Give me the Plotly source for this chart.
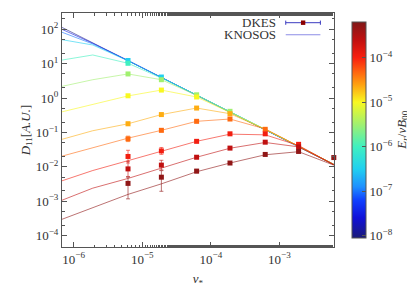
import numpy as np
import plotly.graph_objects as go
from plotly.colors import sample_colorscale

# ---------------- data ----------------
nu_knosos = [6.2e-7, 1.9e-6, 6.2e-6, 1.9e-5, 6.2e-5, 1.9e-4, 6.2e-4, 1.9e-3, 6.2e-3]
nu_dkes = [6.2e-6, 1.9e-5, 6.2e-5, 1.9e-4, 6.2e-4, 1.9e-3, 6.2e-3]

Er = [1e-8, 3.2e-8, 1e-7, 3.2e-7, 1e-6, 3.2e-6, 1e-5, 2.2e-5, 4.5e-5, 1.1e-4, 2.5e-4, 5e-4]

knosos_D = [
    [123, 39.8, 12.3, 3.98, 1.23, 0.398, 0.123, 0.0398, 0.0117],
    [107, 38.9, 12.3, 3.98, 1.23, 0.398, 0.123, 0.0398, 0.0117],
    [87, 37.2, 12.2, 3.98, 1.23, 0.398, 0.123, 0.0398, 0.0117],
    [51, 34.7, 12.0, 3.98, 1.23, 0.398, 0.123, 0.0398, 0.0117],
    [12.3, 17.8, 10.2, 3.8, 1.23, 0.398, 0.123, 0.0398, 0.0117],
    [2.1, 3.4, 5.0, 3.4, 1.2, 0.398, 0.123, 0.0398, 0.0117],
    [0.38, 0.65, 1.15, 1.7, 1.07, 0.38, 0.123, 0.0398, 0.0117],
    [0.060, 0.112, 0.178, 0.33, 0.51, 0.35, 0.123, 0.0398, 0.0117],
    [0.0195, 0.0355, 0.068, 0.115, 0.21, 0.245, 0.126, 0.0398, 0.0117],
    [0.0037, 0.0078, 0.0151, 0.0282, 0.055, 0.089, 0.085, 0.0417, 0.0115],
    [0.0010, 0.0024, 0.0046, 0.0091, 0.019, 0.0347, 0.051, 0.038, 0.0115],
    [0.00028, 0.00065, 0.00158, 0.0032, 0.0072, 0.0129, 0.0224, 0.0275, 0.0112],
]

dkes_D = [
    [None] * 7,
    [None] * 7,
    [None] * 7,
    [12.3, 4.07, None, None, None, None, None],
    [10.2, None, None, None, None, None, None],
    [5.0, 3.4, 1.24, 0.41, None, None, None],
    [1.16, 1.7, 1.07, None, None, None, None],
    [0.178, 0.33, 0.51, 0.35, None, None, None],
    [0.065, 0.115, 0.21, 0.245, 0.123, None, None],
    [0.020, 0.029, 0.055, 0.091, 0.091, 0.045, None],
    [0.0087, 0.0112, 0.019, 0.035, 0.052, 0.038, None],
    [0.0033, 0.0050, 0.0075, 0.0129, 0.0229, 0.028, 0.0186],
]

# error bars, in decades (upper, lower)
dkes_err_up = [
    [0.02] * 7, [0.02] * 7, [0.02] * 7, [0.02] * 7, [0.02] * 7, [0.02] * 7, [0.02] * 7,
    [0.05, 0.03, 0.02, 0.02, 0.02, 0.02, 0.02],
    [0.08, 0.04, 0.02, 0.02, 0.02, 0.02, 0.02],
    [0.18, 0.10, 0.03, 0.02, 0.02, 0.02, 0.02],
    [0.22, 0.14, 0.04, 0.03, 0.02, 0.02, 0.02],
    [0.18, 0.19, 0.05, 0.03, 0.02, 0.02, 0.02],
]
dkes_err_dn = [
    [0.02] * 7, [0.02] * 7, [0.02] * 7, [0.02] * 7, [0.02] * 7, [0.02] * 7, [0.02] * 7,
    [0.05, 0.03, 0.02, 0.02, 0.02, 0.02, 0.02],
    [0.08, 0.04, 0.02, 0.02, 0.02, 0.02, 0.02],
    [0.19, 0.10, 0.03, 0.02, 0.02, 0.02, 0.02],
    [0.22, 0.14, 0.04, 0.03, 0.02, 0.02, 0.02],
    [0.45, 0.41, 0.05, 0.03, 0.02, 0.02, 0.02],
]

x_tick_exps = [-6, -5, -4, -3]
y_tick_exps = [-4, -3, -2, -1, 0, 1, 2]
cb_tick_exps = [-8, -7, -6, -5, -4]

# ---------------- styling ----------------
cmin, cmax = -8.05, -3.2
stops = [(-8.05, "#1c1c78"), (-7.6, "#1010d8"), (-7.2, "#1040ff"), (-6.9, "#1e90ff"),
         (-6.5, "#20d0f0"), (-6.0, "#40f0c0"), (-5.5, "#a0f070"), (-5.0, "#f8f820"),
         (-4.6, "#ffa010"), (-4.3, "#ff6010"), (-4.0, "#f82010"), (-3.6, "#c01010"),
         (-3.2, "#801818")]
colorscale = [[(v - cmin) / (cmax - cmin), c] for v, c in stops]

FONT = "Liberation Serif"
AX = "#555555"
FS = 13

def sup(e):
    return "10<sup>%s</sup>" % (str(e).replace("-", "\u2212"))

fig = go.Figure()

logE = [np.log10(e) for e in Er]
cols = sample_colorscale(colorscale, [(v - cmin) / (cmax - cmin) for v in logE])

def rgba(c, a):
    r, g, b = [int(float(t)) for t in c[c.index("(") + 1:c.index(")")].split(",")]
    return "rgba(%d,%d,%d,%.2f)" % (r, g, b, a)

# KNOSOS lines
for i, row in enumerate(knosos_D):
    fig.add_trace(go.Scatter(x=nu_knosos, y=row, mode="lines",
                             line=dict(color=rgba(cols[i], 0.6), width=1),
                             showlegend=False, hoverinfo="skip"))

# DKES points
first = True
for i, row in enumerate(dkes_D):
    xs, ys, eu, ed = [], [], [], []
    for j, v in enumerate(row):
        if v is None:
            continue
        xs.append(nu_dkes[j])
        ys.append(v)
        eu.append(v * (10 ** dkes_err_up[i][j] - 1))
        ed.append(v * (1 - 10 ** (-dkes_err_dn[i][j])))
    if not xs:
        continue
    mk = dict(symbol="square", size=5, color=[logE[i]] * len(xs), colorscale=colorscale,
              cmin=cmin, cmax=cmax, line=dict(width=0))
    if first:
        mk.update(showscale=True, colorbar=dict(
            x=1.029, xanchor="left", y=0.5, yanchor="middle", len=1.01, thickness=14,
            outlinewidth=1, outlinecolor=AX, tickmode="array",
            tickvals=cb_tick_exps, ticktext=[sup(e) for e in cb_tick_exps],
            ticks="inside", ticklen=4, tickcolor=AX,
            tickfont=dict(family=FONT, size=FS, color="#333")))
        first = False
    fig.add_trace(go.Scatter(x=xs, y=ys, mode="markers", marker=mk,
                             error_y=dict(type="data", array=eu, arrayminus=ed, symmetric=False,
                                          color=rgba(cols[i], 0.6), thickness=1, width=2),
                             showlegend=False, cliponaxis=False, hoverinfo="skip"))

axis_common = dict(type="log", showline=True, linecolor=AX, linewidth=1, mirror="allticks",
                   ticks="inside", ticklen=5, tickcolor=AX, showgrid=False, zeroline=False,
                   tickfont=dict(family=FONT, size=FS, color="#333"),
                   minor=dict(ticks="inside", ticklen=2.5, tickcolor=AX, showgrid=False))

fig.update_xaxes(**axis_common, range=[-6.17, -2.205], tickmode="array",
                 tickvals=[10.0 ** e for e in x_tick_exps], ticktext=[sup(e) for e in x_tick_exps],
                 title=dict(text="<i>\u03bd</i><sub>*</sub>", standoff=8,
                            font=dict(family=FONT, size=FS, color="#333")))
fig.update_yaxes(**axis_common, range=[-4.33, 2.47], tickmode="array",
                 tickvals=[10.0 ** e for e in y_tick_exps], ticktext=[sup(e) for e in y_tick_exps],
                 title=dict(text="<i>D</i><sub>11</sub>[<i>A.U.</i>]", standoff=2,
                            font=dict(family=FONT, size=FS, color="#333")))

# colorbar title
fig.add_annotation(x=1.249, y=0.5, xref="paper", yref="paper", textangle=-90,
                   text="<i>E<sub>r</sub></i>/<i>vB</i><sub>00</sub>", showarrow=False,
                   xanchor="center", yanchor="middle", font=dict(family=FONT, size=FS, color="#333"))

# legend (drawn in paper coordinates)
fig.add_annotation(x=0.793, y=0.9586, xref="paper", yref="paper", text="DKES", showarrow=False,
                   xanchor="right", yanchor="middle", font=dict(family=FONT, size=FS, color="#333"))
fig.add_annotation(x=0.793, y=0.907, xref="paper", yref="paper", text="KNOSOS", showarrow=False,
                   xanchor="right", yanchor="middle", font=dict(family=FONT, size=FS, color="#333"))
lx0, lx1 = 0.8226, 0.950
for yv, colr in [(0.9586, "#3c3cc0"), (0.907, "#8c8ce6")]:
    fig.add_shape(type="line", xref="paper", yref="paper", x0=lx0, x1=lx1, y0=yv, y1=yv,
                  line=dict(color=colr, width=1))
for xv in (lx0, lx1):
    fig.add_shape(type="line", xref="paper", yref="paper", x0=xv, x1=xv, y0=0.9586 - 0.009,
                  y1=0.9586 + 0.009, line=dict(color="#3c3cc0", width=1))
fig.add_shape(type="rect", xref="paper", yref="paper", x0=0.8865 - 0.008, x1=0.8865 + 0.008,
              y0=0.9586 - 0.0095, y1=0.9586 + 0.0095, fillcolor="#8b0000", line=dict(width=0))

# the page body adds an 8 px offset, so margins are reduced by 8 px on the top/left
fig.update_layout(width=415, height=291,
                  margin=dict(l=54, r=89, t=5, b=52, autoexpand=False),
                  plot_bgcolor="white", paper_bgcolor="white", showlegend=False,
                  font=dict(family=FONT, size=FS, color="#333"))

fig.write_html("out.html")
